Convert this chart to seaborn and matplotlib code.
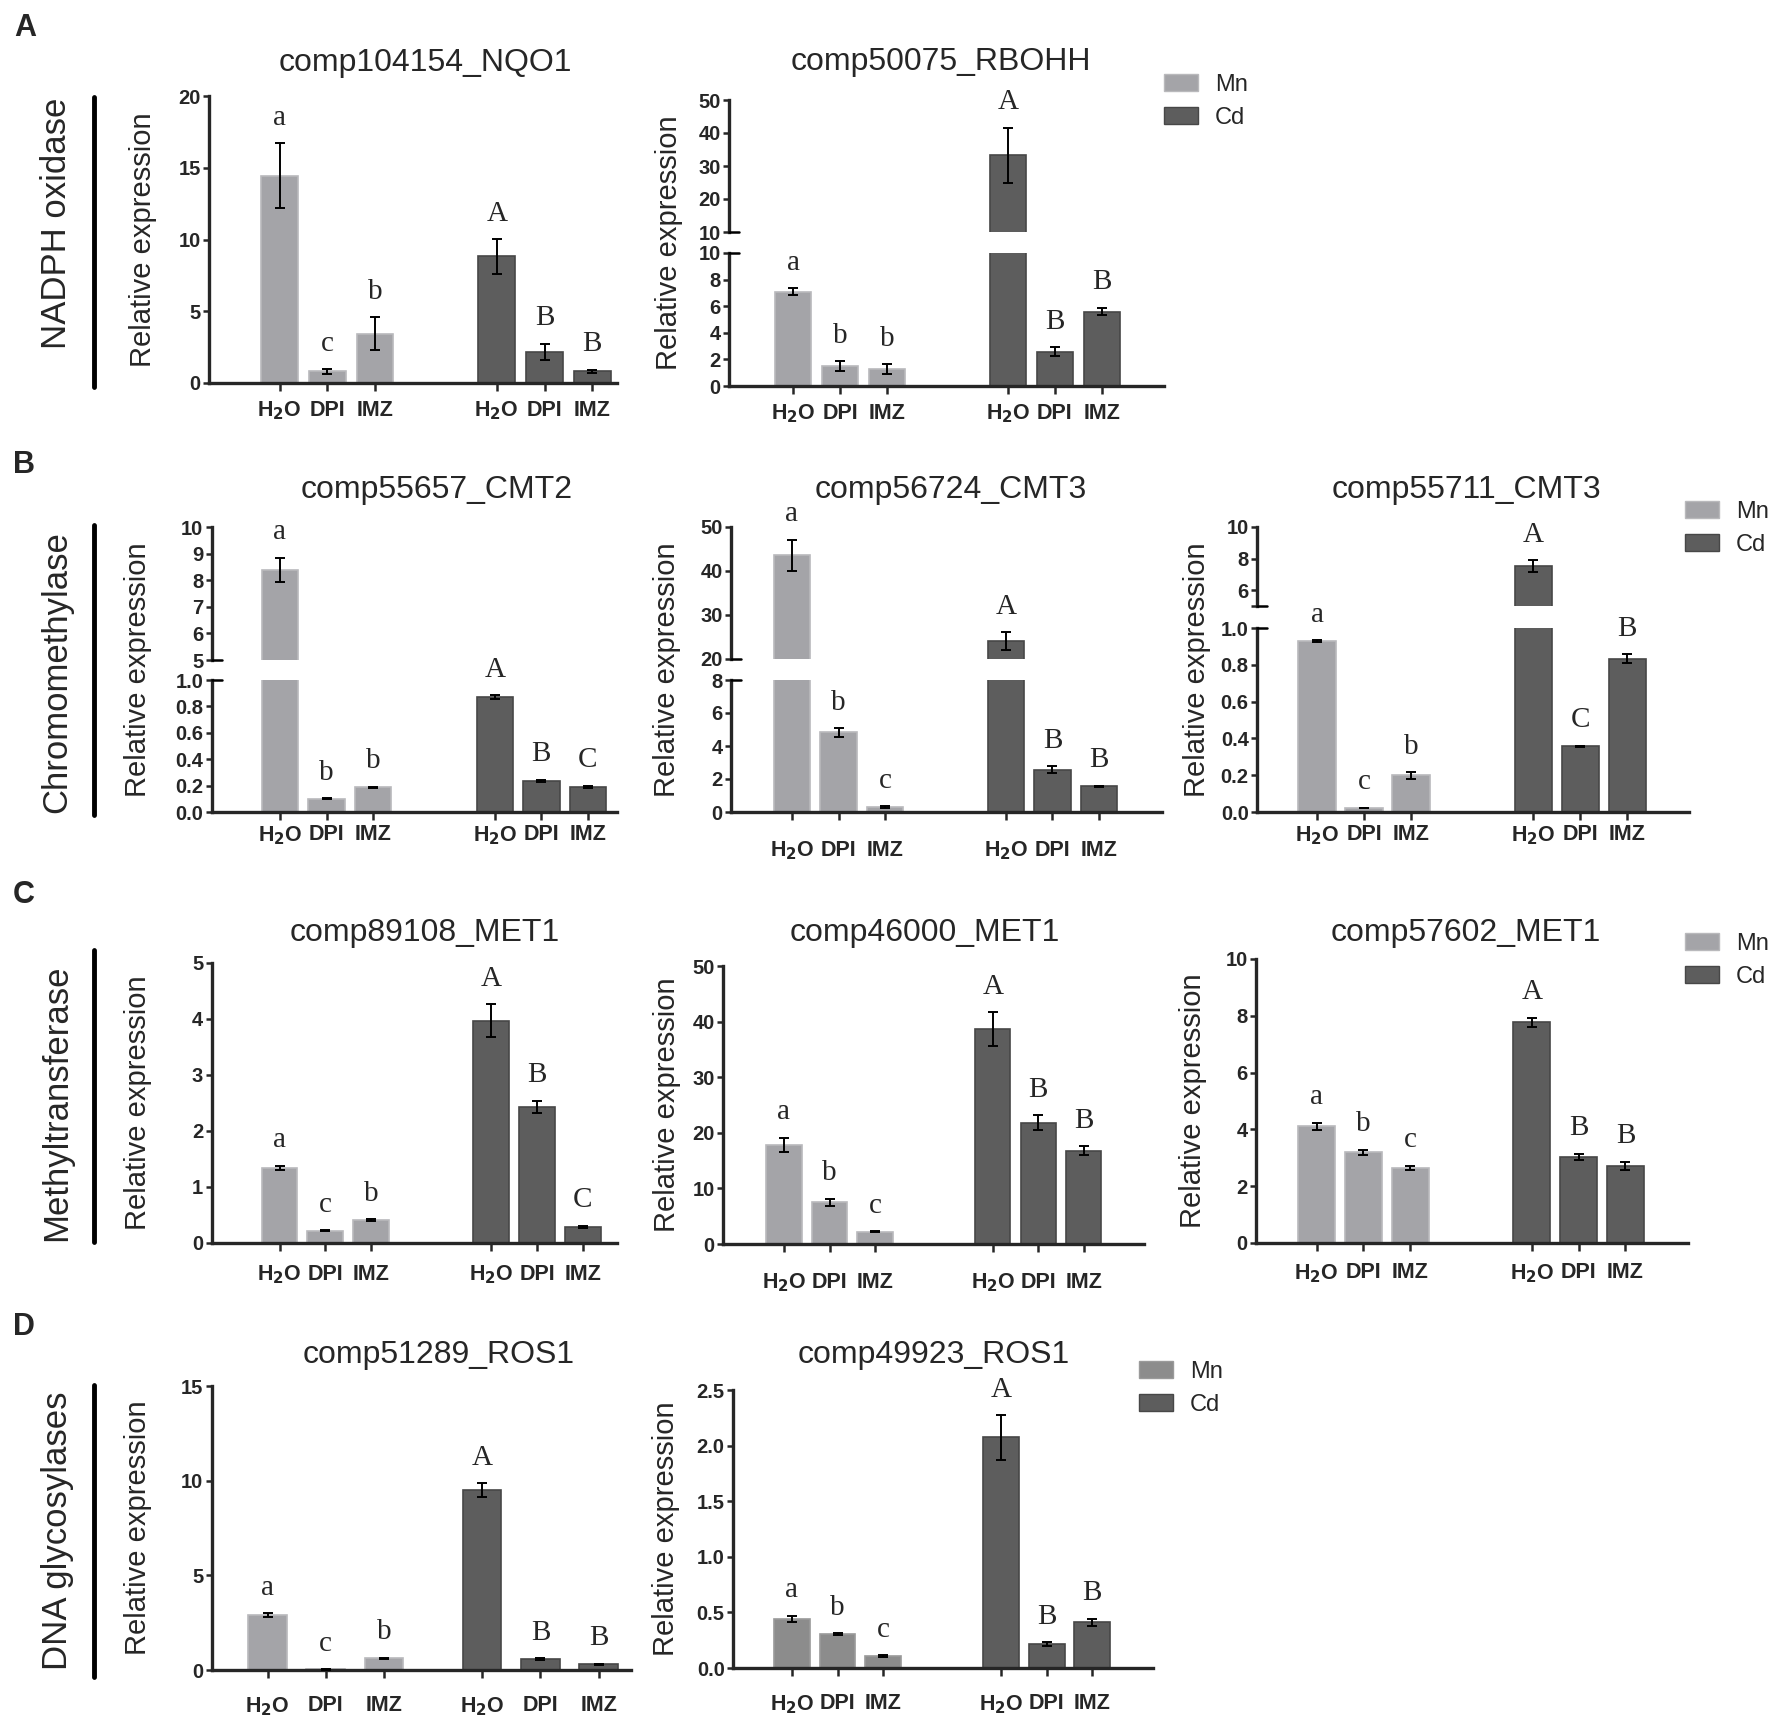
import matplotlib
matplotlib.use("Agg")
import pandas as pd
import seaborn as sns
from matplotlib import pyplot as plt
from matplotlib.lines import Line2D
from matplotlib.patches import Patch

# ---- data (means, errors, letters) ----
treatments = ['H$_{\\mathbf{2}}$O', 'DPI', 'IMZ', 'H$_{\\mathbf{2}}$O', 'DPI', 'IMZ']
metals = ['Mn', 'Mn', 'Mn', 'Cd', 'Cd', 'Cd']

nqo1_mean = [14.45, 0.81, 3.43, 8.82, 2.18, 0.81]
nqo1_err = [2.25, 0.16, 1.16, 1.2, 0.56, 0.12]
nqo1_letters = ['a', 'c', 'b', 'A', 'B', 'B']
nqo1_ticks = [0, 5, 10, 15, 20]

rbohh_mean = [7.1, 1.49, 1.28, 33.2, 2.57, 5.6]
rbohh_err = [0.25, 0.38, 0.35, 8.4, 0.35, 0.28]
rbohh_letters = ['a', 'b', 'b', 'A', 'B', 'B']
rbohh_upper_ticks = [10, 20, 30, 40, 50]
rbohh_lower_ticks = [0, 2, 4, 6, 8, 10]

cmt2_mean = [8.39, 0.10, 0.186, 0.869, 0.237, 0.189]
cmt2_err = [0.46, 0.005, 0.005, 0.015, 0.008, 0.01]
cmt2_letters = ['a', 'b', 'b', 'A', 'B', 'C']
cmt2_upper_ticks = [5, 6, 7, 8, 9, 10]
cmt2_lower_ticks = [0.0, 0.2, 0.4, 0.6, 0.8, 1.0]

cmt3a_mean = [43.6, 4.82, 0.3, 24.1, 2.56, 1.55]
cmt3a_err = [3.5, 0.25, 0.04, 1.95, 0.2, 0.03]
cmt3a_letters = ['a', 'b', 'c', 'A', 'B', 'B']
cmt3a_upper_ticks = [20, 30, 40, 50]
cmt3a_lower_ticks = [0, 2, 4, 6, 8]

cmt3b_mean = [0.928, 0.022, 0.199, 7.51, 0.356, 0.834]
cmt3b_err = [0.005, 0.002, 0.018, 0.37, 0.005, 0.023]
cmt3b_letters = ['a', 'c', 'b', 'A', 'C', 'B']
cmt3b_upper_ticks = [5, 6, 8, 10]
cmt3b_upper_labels = ['', '6', '8', '10']
cmt3b_lower_ticks = [0.0, 0.2, 0.4, 0.6, 0.8, 1.0]

met1a_mean = [1.34, 0.22, 0.41, 3.97, 2.43, 0.29]
met1a_err = [0.04, 0.01, 0.015, 0.29, 0.11, 0.015]
met1a_letters = ['a', 'c', 'b', 'A', 'B', 'C']
met1a_ticks = [0, 1, 2, 3, 4, 5]

met1b_mean = [17.8, 7.5, 2.2, 38.7, 21.8, 16.8]
met1b_err = [1.3, 0.6, 0.1, 3.0, 1.35, 0.75]
met1b_letters = ['a', 'b', 'c', 'A', 'B', 'B']
met1b_ticks = [0, 10, 20, 30, 40, 50]

met1c_mean = [4.11, 3.19, 2.65, 7.77, 3.03, 2.72]
met1c_err = [0.12, 0.1, 0.07, 0.17, 0.11, 0.14]
met1c_letters = ['a', 'b', 'c', 'A', 'B', 'B']
met1c_ticks = [0, 2, 4, 6, 8, 10]

ros1a_mean = [2.9, 0.03, 0.62, 9.5, 0.58, 0.3]
ros1a_err = [0.09, 0.005, 0.03, 0.37, 0.03, 0.03]
ros1a_letters = ['a', 'c', 'b', 'A', 'B', 'B']
ros1a_ticks = [0, 5, 10, 15]

ros1b_mean = [0.44, 0.305, 0.105, 2.075, 0.215, 0.41]
ros1b_err = [0.03, 0.008, 0.01, 0.2, 0.015, 0.035]
ros1b_letters = ['a', 'b', 'c', 'A', 'B', 'B']
ros1b_ticks = [0.0, 0.5, 1.0, 1.5, 2.0, 2.5]

# ---- style ----
W, H = 1775, 1729
MN, CD, MN_D = '#a4a4a8', '#5d5d5d', '#8c8c8c'
EDGES = {MN: '#b9b9bc', CD: '#474747', MN_D: '#9a9a9a'}
NARROW = ['Liberation Sans Narrow', 'Liberation Sans', 'DejaVu Sans']
SANS = ['Liberation Sans', 'DejaVu Sans']
SERIF = ['Liberation Serif', 'DejaVu Serif']

sns.set_style('ticks')
plt.rcParams['font.family'] = SANS
plt.rcParams['mathtext.fontset'] = 'custom'
plt.rcParams['mathtext.bf'] = 'Liberation Sans Narrow:bold'
plt.rcParams['mathtext.rm'] = 'Liberation Sans Narrow'


def fx(x):
    return x / W


def fy(y):
    return 1 - y / H


def fmt(t):
    return '{:.1f}'.format(t) if isinstance(t, float) else str(t)


def draw_panel(fig, p):
    """Draw one gene panel (possibly with a broken y axis)."""
    g = p['gap']
    pos = [0, 1, 2, g, g + 1, g + 2]
    df = pd.DataFrame({'pos': pos, 'value': p['mean'], 'metal': metals})
    pal = {'Mn': p.get('mn', MN), 'Cd': CD}
    L, R, c0, s = p['L'], p['R'], p['c0'], p['s']
    xl = -(c0 - L) / s
    xr = xl + (R - L) / s
    tops = [m + e for m, e in zip(p['mean'], p['err'])]
    axes = []
    nseg = len(p['segs'])
    for k, (ymin, ymax, ytop, ybot, ticks, labels) in enumerate(p['segs']):
        ax = fig.add_axes([fx(L), fy(ybot), fx(R) - fx(L), (ybot - ytop) / H])
        sns.barplot(data=df, x='pos', y='value', hue='metal', palette=pal,
                    native_scale=True, width=p['w'], errorbar=None,
                    legend=False, dodge=False, saturation=1, ax=ax)
        for bar in ax.patches:
            fc = matplotlib.colors.to_hex(bar.get_facecolor())
            bar.set_edgecolor(EDGES.get(fc, '#555555'))
            bar.set_linewidth(1.2)
        ax.errorbar(pos, p['mean'], yerr=p['err'], fmt='none', ecolor='black',
                    elinewidth=1.4, capsize=3.5, capthick=1.4, zorder=5)
        ax.set_xlim(xl, xr)
        ax.set_ylim(ymin, ymax)
        ax.set_xlabel('')
        ax.set_ylabel('')
        if labels is None:
            labels = [fmt(t) for t in ticks]
        ax.set_yticks(ticks, labels, fontsize=14.5, fontweight='bold',
                      family=NARROW)
        ax.tick_params(axis='y', length=4.5, width=1.8, pad=1.5)
        for side in ['top', 'right']:
            ax.spines[side].set_visible(False)
        ax.spines['left'].set_linewidth(2.4)
        ax.spines['bottom'].set_linewidth(2.4)
        last = k == nseg - 1
        if last:
            ax.set_xticks(pos, treatments, fontsize=15.5, fontweight='bold',
                          family=NARROW)
            ax.tick_params(axis='x', length=6, width=1.8, pad=p['pad'])
        else:
            ax.spines['bottom'].set_visible(False)
            ax.set_xticks([])
        ax.set_facecolor('none')
        axes.append((ax, ymin, ymax))
    # break marks on the spine
    if nseg > 1:
        for (ymin, ymax, ytop, ybot, ticks, labels), edge in \
                zip(p['segs'], ['bottom', 'top']):
            yy = ybot if edge == 'bottom' else ytop
            fig.add_artist(Line2D([fx(L), fx(L + 10)], [fy(yy), fy(yy)],
                                  color='black', lw=1.8))
    # significance letters
    for x, t, lab in zip(pos, tops, p['letters']):
        target = axes[-1][0]
        for ax, ymin, ymax in axes:
            if ymin <= t <= ymax:
                target = ax
                break
        target.annotate(lab, (x, t), xytext=(0, 9), textcoords='offset points',
                        ha='center', va='bottom', fontsize=21, family=SERIF,
                        annotation_clip=False)
    fig.text(fx(p['tx']), fy(p['ty']), p['title'], ha='center', va='center',
             fontsize=23)
    ymid = (p['segs'][0][2] + p['segs'][-1][3]) / 2
    fig.text(fx(p['yl']), fy(ymid), 'Relative expression', rotation=90,
             ha='center', va='center', fontsize=21)


panels = [
    dict(title='comp104154_NQO1', mean=nqo1_mean, err=nqo1_err,
         letters=nqo1_letters, L=209, R=617, c0=279.5, s=47.75, gap=4.55,
         w=0.77, pad=6, tx=425, ty=63, yl=143,
         segs=[(0, 20, 96, 383, nqo1_ticks, None)]),
    dict(title='comp50075_RBOHH', mean=rbohh_mean, err=rbohh_err,
         letters=rbohh_letters, L=729, R=1164, c0=793, s=47, gap=4.57,
         w=0.77, pad=6, tx=941, ty=62, yl=669,
         segs=[(10, 50, 100, 232, rbohh_upper_ticks, None),
               (0, 10, 253, 386, rbohh_lower_ticks, None)]),
    dict(title='comp55657_CMT2', mean=cmt2_mean, err=cmt2_err,
         letters=cmt2_letters, L=211.5, R=617, c0=280, s=46.5, gap=4.62,
         w=0.785, pad=3, tx=437, ty=490, yl=138,
         segs=[(5, 10, 527, 660, cmt2_upper_ticks, None),
               (0, 1.0, 680, 812, cmt2_lower_ticks, None)]),
    dict(title='comp56724_CMT3', mean=cmt3a_mean, err=cmt3a_err,
         letters=cmt3a_letters, L=731, R=1162, c0=792, s=46.5, gap=4.6,
         w=0.785, pad=14, tx=951, ty=490, yl=667,
         segs=[(20, 50, 527, 659, cmt3a_upper_ticks, None),
               (0, 8, 680, 812, cmt3a_lower_ticks, None)]),
    dict(title='comp55711_CMT3', mean=cmt3b_mean, err=cmt3b_err,
         letters=cmt3b_letters, L=1257, R=1689, c0=1317, s=47, gap=4.6,
         w=0.79, pad=3, tx=1466, ty=490, yl=1197,
         segs=[(5, 10, 527, 606, cmt3b_upper_ticks, cmt3b_upper_labels),
               (0, 1.0, 628, 812, cmt3b_lower_ticks, None)]),
    dict(title='comp89108_MET1', mean=met1a_mean, err=met1a_err,
         letters=met1a_letters, L=211.5, R=617, c0=279.5, s=45.75, gap=4.63,
         w=0.78, pad=9, tx=425, ty=933, yl=138,
         segs=[(0, 5, 963, 1243, met1a_ticks, None)]),
    dict(title='comp46000_MET1', mean=met1b_mean, err=met1b_err,
         letters=met1b_letters, L=723, R=1144, c0=784, s=45.5, gap=4.59,
         w=0.77, pad=14, tx=925, ty=933, yl=667,
         segs=[(0, 50, 966, 1244, met1b_ticks, None)]),
    dict(title='comp57602_MET1', mean=met1c_mean, err=met1c_err,
         letters=met1c_letters, L=1256, R=1687.5, c0=1316.5, s=46.8,
         gap=4.6, w=0.79, pad=8, tx=1466, ty=933, yl=1193,
         segs=[(0, 10, 959, 1243, met1c_ticks, None)]),
    dict(title='comp51289_ROS1', mean=ros1a_mean, err=ros1a_err,
         letters=ros1a_letters, L=211.5, R=631, c0=267.5, s=58.2, gap=3.69,
         w=0.66, pad=12, tx=439, ty=1355, yl=138,
         segs=[(0, 15, 1386, 1670, ros1a_ticks, None)]),
    dict(title='comp49923_ROS1', mean=ros1b_mean, err=ros1b_err,
         letters=ros1b_letters, L=733, R=1153, c0=792, s=45.5, gap=4.6,
         w=0.79, pad=12, tx=934, ty=1355, yl=666, mn=MN_D,
         segs=[(0, 2.5, 1390, 1668, ros1b_ticks, None)]),
]

rows = [('A', 'NADPH oxidase', 25, 28, 223, 97, 387),
        ('B', 'Chromomethylase', 24, 465, 672, 525, 815),
        ('C', 'Methyltransferase', 24, 895, 1103, 950, 1242),
        ('D', 'DNA glycosylases', 24, 1327, 1531, 1385, 1677)]

legends = [(1164, 74, MN), (1685, 501, MN), (1685, 933, MN), (1139, 1361, MN_D)]

fig = plt.figure(figsize=(W / 100, H / 100), dpi=100)

for p in panels:
    draw_panel(fig, p)

for letter, group, lx, ly, gy, l0, l1 in rows:
    fig.text(fx(lx), fy(ly), letter, ha='center', va='center',
             fontsize=22, fontweight='bold')
    fig.text(fx(57), fy(gy), group, rotation=90, ha='center', va='center',
             fontsize=25)
    fig.add_artist(Line2D([fx(94), fx(94)], [fy(l0), fy(l1)],
                          color='black', lw=3.5))

for x, y, mn in legends:
    handles = [Patch(facecolor=mn, edgecolor=EDGES[mn], label='Mn'),
               Patch(facecolor=CD, edgecolor=EDGES[CD], label='Cd')]
    fig.legend(handles=handles, loc='upper left',
               bbox_to_anchor=(fx(x), fy(y)), frameon=False,
               prop={'family': NARROW, 'size': 17}, handlelength=1.45,
               handleheight=0.75, handletextpad=0.7, labelspacing=0.45,
               borderpad=0, borderaxespad=0)

fig.savefig('out.png', dpi=100)
